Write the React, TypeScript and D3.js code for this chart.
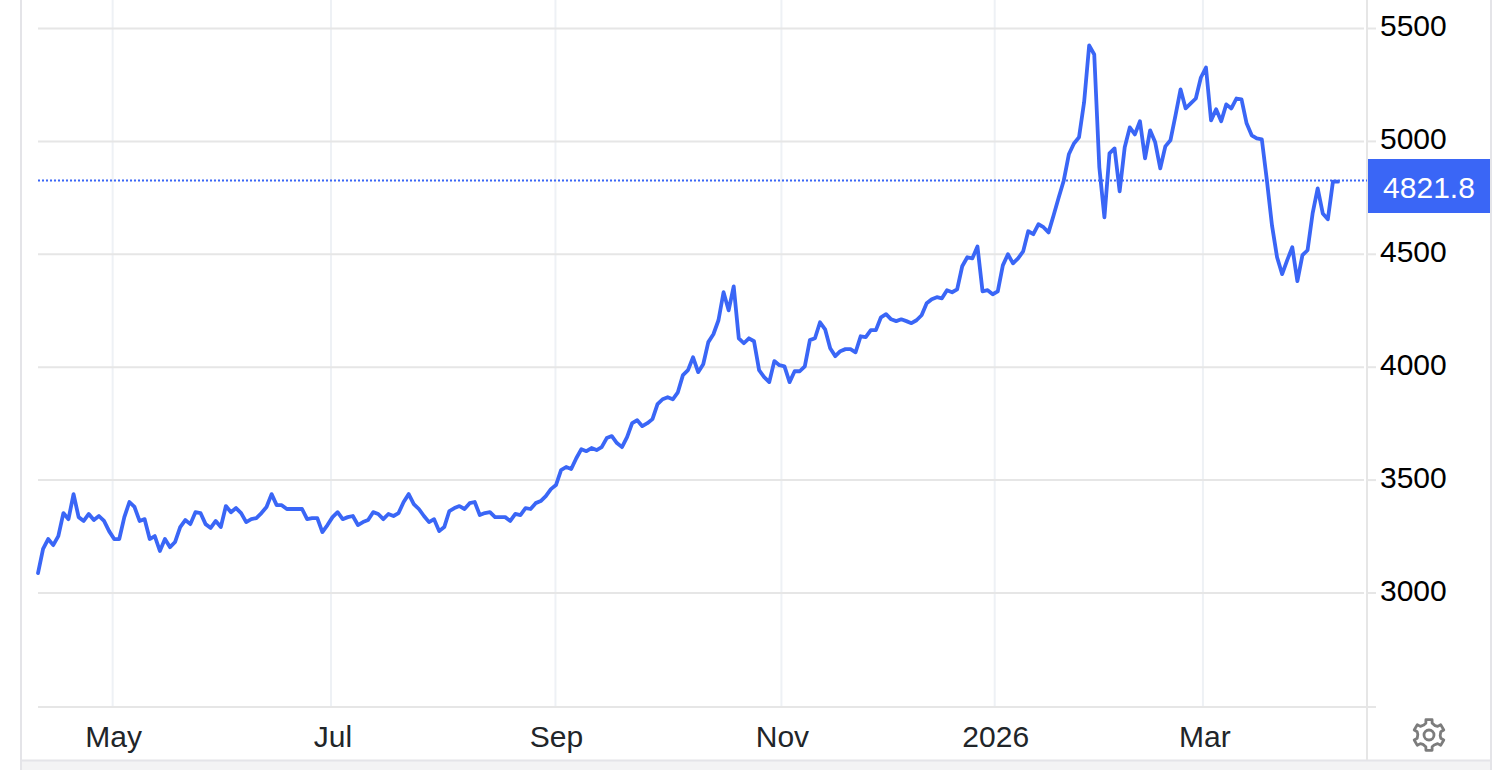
import React from "react";
import * as d3 from "d3";

const closes = [
  3088,3195,3239,3212,3252,3354,3327,3438,3336,3319,3350,3323,3341,3319,3274,3239,3239,3336,3403,3381,
  3319,3327,3239,3252,3186,3239,3203,3226,3292,3323,3305,3358,3354,3305,3288,3319,3292,3385,3358,3376,
  3354,3314,3327,3332,3354,3381,3438,3389,3389,3372,3372,3372,3372,3327,3332,3332,3270,3301,3336,3358,
  3327,3336,3341,3301,3314,3323,3358,3350,3327,3350,3341,3354,3403,3438,3394,3372,3341,3314,3327,3274,
  3292,3363,3376,3385,3372,3398,3403,3345,3354,3358,3336,3336,3336,3319,3350,3345,3376,3372,3398,3407,
  3429,3460,3478,3544,3558,3549,3597,3637,3628,3642,3633,3646,3686,3695,3664,3646,3690,3752,3765,3739,
  3752,3770,3836,3858,3867,3858,3889,3965,3987,4044,3978,4013,4111,4146,4208,4332,4252,4358,4128,4106,
  4128,4115,3987,3956,3934,4027,4009,4004,3934,3982,3982,4004,4120,4128,4199,4168,4084,4049,4071,4080,
  4080,4066,4137,4133,4164,4164,4221,4235,4212,4204,4212,4204,4195,4208,4230,4283,4301,4310,4305,4341,
  4332,4345,4447,4487,4482,4535,4336,4341,4323,4336,4451,4500,4460,4482,4513,4602,4589,4633,4620,4597,
  4673,4752,4827,4943,4991,5018,5173,5425,5385,4885,4664,4947,4969,4779,4974,5062,5031,5089,4925,5049,
  4996,4881,4978,5005,5115,5230,5146,5168,5190,5283,5327,5093,5142,5089,5164,5146,5190,5186,5080,5027,
  5013,5009,4827,4628,4487,4412,4474,4531,4381,4496,4518,4681,4792,4681,4655,4821.8,4821.8,
];
const yTicks = [3000, 3500, 4000, 4500, 5000, 5500];
const xTickLabels = ["May", "Jul", "Sep", "Nov", "2026", "Mar"];
const xTickSessions = [14.7, 57.7, 101.9, 146.4, 188.4, 229.4];
const lastValue = 4821.8;

const BLUE = "#3a66f6";
const GRID = "#e6e6e6";
const VGRID = "#eef1f5";
const FONT = "'Liberation Sans', Arial, sans-serif";

function gearPath(cx: number, cy: number) {
  const pts: [number, number][] = [];
  for (let t = 0; t < 6; t++) {
    const a = (t * Math.PI) / 3;
    const w = 0.26;
    pts.push([a - 0.52 + 0.04, 11.2], [a - w, 12.2], [a - w + 0.06, 15.6], [a + w - 0.06, 15.6], [a + w, 12.2]);
  }
  const line = d3.lineRadial().angle((d) => d[0]).radius((d) => d[1]).curve(d3.curveLinearClosed);
  return { d: line(pts) as string, transform: `translate(${cx},${cy})` };
}

export default function App() {
  const y = d3.scaleLinear().domain([3000, 5500]).range([593, 28.5]);
  const x = d3.scaleLinear().domain([0, closes.length - 1]).range([38, 1338]);
  const path = d3.line<number>().x((_, i) => x(i)).y((d) => y(d))(closes) as string;
  const gear = gearPath(1429, 735);
  const yl = Math.floor(y(lastValue)) - 0.5;
  return (
    <svg width={1506} height={770} style={{ position: "fixed", left: 0, top: 0, background: "#fff" }}>
      <rect x={21} y={761} width={1470} height={9} fill="#f3f3f4" />
      <line x1={21} x2={21} y1={0} y2={770} stroke="#e4e4e8" strokeWidth={2} />
      <line x1={1491} x2={1491} y1={0} y2={770} stroke="#e4e4e8" strokeWidth={2} />
      <line x1={21} x2={1491} y1={760.5} y2={760.5} stroke="#e4e4e8" strokeWidth={2} />
      {xTickSessions.map((t, i) => (
        <line key={i} x1={x(t)} x2={x(t)} y1={0} y2={707} stroke={VGRID} strokeWidth={2} />
      ))}
      {yTicks.map((t) => (
        <g key={t}>
          <line x1={38} x2={1364} y1={y(t)} y2={y(t)} stroke={GRID} strokeWidth={2} />
          <line x1={1368} x2={1376} y1={y(t)} y2={y(t)} stroke={GRID} strokeWidth={2} />
          <text x={1380} y={y(t) + 7.7} fontFamily={FONT} fontSize={30} fill="#000">{t}</text>
        </g>
      ))}
      <line x1={38} x2={1376} y1={707} y2={707} stroke={GRID} strokeWidth={2} />
      <line x1={1367} x2={1367} y1={0} y2={760} stroke={GRID} strokeWidth={2} />
      {xTickSessions.map((t, i) => (
        <text key={i} x={x(t) + (i === 1 || i === 5 ? 2 : 1)} y={747} textAnchor="middle" fontFamily={FONT} fontSize={30} fill="#212529">
          {xTickLabels[i]}
        </text>
      ))}
      <line x1={38} x2={1367} y1={yl} y2={yl} stroke={BLUE} strokeWidth={2} strokeDasharray="2 2" />
      <path d={path} fill="none" stroke={BLUE} strokeWidth={3.8} strokeLinejoin="round" strokeLinecap="round" />
      <rect x={1368} y={159} width={122} height={54} fill={BLUE} />
      <text x={1429} y={198} textAnchor="middle" fontFamily={FONT} fontSize={30} fill="#fff">{lastValue}</text>
      <path d={gear.d} transform={gear.transform} fill="none" stroke="#7c7c7c" strokeWidth={2.8} strokeLinejoin="round" />
      <circle cx={1429} cy={735} r={5} fill="none" stroke="#7c7c7c" strokeWidth={2.8} />
    </svg>
  );
}
